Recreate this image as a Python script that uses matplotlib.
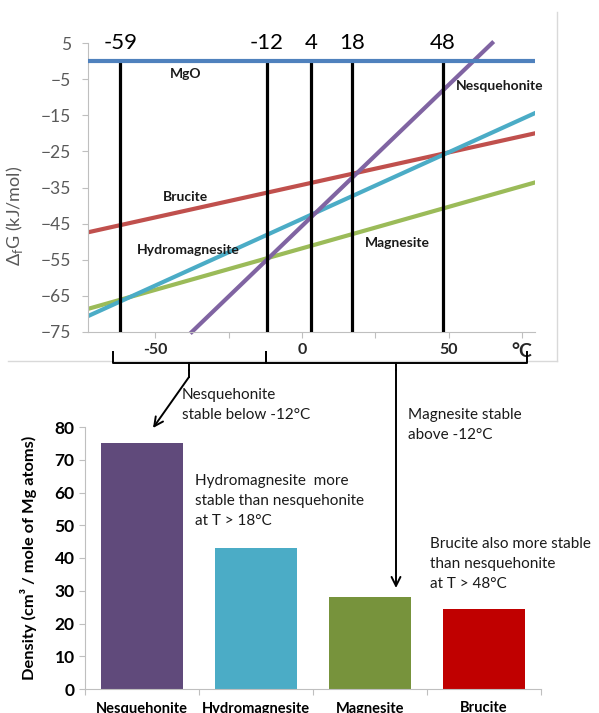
import matplotlib
matplotlib.use("Agg")
import matplotlib.pyplot as plt
from matplotlib.lines import Line2D

plt.rcParams['font.family'] = ['Lato', 'DejaVu Sans']
plt.rcParams['mathtext.fontset'] = 'custom'
plt.rcParams['mathtext.rm'] = 'Lato'

# top chart: free energy vs temperature (end points)
t_ends = [-73, 79.5]
mgo = [0, 0]
brucite = [-47.4, -20.0]
hydromag = [-70.6, -14.4]
magnesite = [-68.6, -33.6]
nesq_t = [-37.6, 64.9]
nesq = [-75, 5]

cross_t = [-62, -12, 3, 17, 48]
cross_lbl = ['-59', '-12', '4', '18', '48']

# bottom chart: density
minerals = ['Nesquehonite', 'Hydromagnesite', 'Magnesite', 'Brucite']
density = [75, 43, 28, 24.5]
bar_cols = ['#604A7B', '#4BACC6', '#77933C', '#C00000']

W, H = 599, 713
fig = plt.figure(figsize=(W / 100, H / 100), dpi=100)


def box(l, t, r, b):
    return [l / W, 1 - b / H, (r - l) / W, (b - t) / H]


txt = '#595959'

# ---- top chart
ax = fig.add_axes(box(88, 43, 535, 332))
for x in cross_t:
    ax.plot([x, x], [-75, 0], color='black', lw=2.3, zorder=3)
ax.plot(t_ends, mgo, color='#4F81BD', lw=3, zorder=4)
ax.plot(t_ends, brucite, color='#C0504D', lw=3, zorder=2)
ax.plot(t_ends, magnesite, color='#9BBB59', lw=3, zorder=2)
ax.plot(t_ends, hydromag, color='#4BACC6', lw=3, zorder=2)
ax.plot(nesq_t, nesq, color='#8064A2', lw=3, zorder=2, clip_on=False)

for x, s in zip(cross_t, cross_lbl):
    ax.text(x, 5, s, ha='center', va='center', fontsize=16, color='black')

lbl = dict(fontsize=10, fontweight='bold', color='#1a1a1a', ha='left', va='center')
ax.text(-45, -3.5, 'MgO', **lbl)
ax.text(52.5, -7, 'Nesquehonite', **lbl)
ax.text(-47.5, -37.5, 'Brucite', **lbl)
ax.text(-56.3, -52.2, 'Hydromagnesite', **lbl)
ax.text(21.5, -50.3, 'Magnesite', **lbl)

ax.set_xlim(-73, 79.5)
ax.set_ylim(-75, 5)
ax.set_yticks(range(5, -76, -10))
ax.set_xticks([-50, -25, 0, 25, 50, 75])
ax.set_xticklabels(['-50', '', '0', '', '50', '°C'], fontweight='bold', fontsize=11.5, color='#262626')
ax.get_xticklabels()[-1].set_fontsize(14)
for s in ['top', 'right']:
    ax.spines[s].set_visible(False)
for s in ['left', 'bottom']:
    ax.spines[s].set_color('#bfbfbf')
ax.tick_params(axis='y', length=4, color='#bfbfbf', labelcolor=txt, labelsize=12.5, pad=8)
ax.tick_params(axis='x', length=4, color='#bfbfbf', pad=4)
ax.set_ylabel(r'$\Delta_\mathrm{f}$G (kJ/mol)', fontsize=13, color=txt)
ax.yaxis.set_label_coords(-0.14, 0.40)

# chart border (right and bottom edges)
fig.add_artist(Line2D([8, 557], [H - 361, H - 361], transform=None, color='#d9d9d9', lw=1))
fig.add_artist(Line2D([557, 557], [H - 12, H - 361], transform=None, color='#d9d9d9', lw=1))

# braces under the axis
def brace(x0, x1, xm):
    fig.add_artist(Line2D([x0, x0, x1, x1], [H - 352, H - 363, H - 363, H - 352],
                          transform=None, color='black', lw=1.4))
    fig.add_artist(Line2D([xm, xm], [H - 363, H - 370], transform=None, color='black', lw=1.4))

brace(113, 266, 189)
brace(266, 527, 396)

fig.add_artist(Line2D([189, 189], [H - 370, H - 377], transform=None, color='black', lw=1.4))
arr = dict(arrowstyle='->', color='black', lw=1.4, mutation_scale=16, shrinkA=0, shrinkB=0)
fig.add_artist(plt.Annotation('', xy=(153, H - 428), xytext=(189, H - 377),
                              xycoords='figure pixels', textcoords='figure pixels', arrowprops=arr))
fig.add_artist(plt.Annotation('', xy=(396, H - 588), xytext=(396, H - 370),
                              xycoords='figure pixels', textcoords='figure pixels', arrowprops=arr))

# ---- bottom chart
bx = fig.add_axes(box(85, 427, 541, 689))
bx.bar(range(len(minerals)), density, width=0.72, color=bar_cols)
bx.set_xlim(-0.5, 3.5)
bx.set_ylim(0, 80)
bx.set_yticks(range(0, 81, 10))
bx.set_xticks([-0.5, 0.5, 1.5, 2.5, 3.5])
bx.set_xticklabels([])
bx.set_xticks(range(len(minerals)), minerals, minor=True)
bx.tick_params(axis='x', which='minor', length=0, pad=9, labelsize=10.5)
for t in bx.get_xticklabels(minor=True):
    t.set_fontweight('bold')
bx.tick_params(axis='x', which='major', length=4, color='#bfbfbf')
bx.tick_params(axis='y', length=4, color='#bfbfbf', labelsize=12.5)
for t in bx.get_yticklabels():
    t.set_fontweight('bold')
for s in ['top', 'right']:
    bx.spines[s].set_visible(False)
for s in ['left', 'bottom']:
    bx.spines[s].set_color('#bfbfbf')
bx.set_ylabel('Density (cm³ / mole of Mg atoms)', fontsize=11.8, fontweight='bold')
bx.yaxis.set_label_coords(-0.105, 0.5)

note = dict(fontsize=11, ha='left', va='top', linespacing=1.55, color='#1a1a1a')
fig.text(182 / W, 1 - 388 / H, 'Nesquehonite\nstable below -12°C', **note)
fig.text(195 / W, 1 - 474 / H, 'Hydromagnesite  more\nstable than nesquehonite\nat T > 18°C', **note)
fig.text(408 / W, 1 - 408 / H, 'Magnesite stable\nabove -12°C', **note)
fig.text(430 / W, 1 - 537 / H, 'Brucite also more stable\nthan nesquehonite\nat T > 48°C', **note)

fig.savefig('out.png', dpi=100)
